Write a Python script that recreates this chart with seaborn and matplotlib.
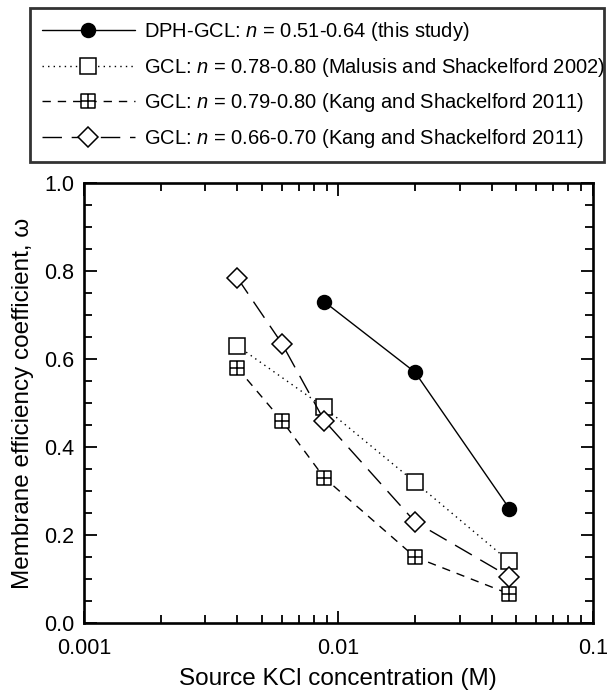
"""Membrane efficiency vs source KCl concentration."""
import numpy as np
import pandas as pd
import seaborn as sns
import matplotlib.pyplot as plt
from matplotlib.path import Path
from matplotlib.ticker import FixedLocator, LogLocator, NullFormatter, MultipleLocator

# Data.
dph_conc = [0.0088, 0.020, 0.047]
dph_omega = [0.73, 0.57, 0.26]
malusis_conc = [0.0040, 0.0088, 0.020, 0.047]
malusis_omega = [0.63, 0.49, 0.32, 0.14]
kang1_conc = [0.0040, 0.0060, 0.0088, 0.020, 0.047]
kang1_omega = [0.58, 0.46, 0.33, 0.15, 0.066]
kang2_conc = [0.0040, 0.0060, 0.0088, 0.020, 0.047]
kang2_omega = [0.785, 0.635, 0.46, 0.23, 0.105]

labels = ['DPH-GCL: $n$ = 0.51-0.64 (this study)',
          'GCL: $n$ = 0.78-0.80 (Malusis and Shackelford 2002)',
          'GCL: $n$ = 0.79-0.80 (Kang and Shackelford 2011)',
          'GCL: $n$ = 0.66-0.70 (Kang and Shackelford 2011)']
xticks = [0.001, 0.01, 0.1]
xticklabels = ['0.001', '0.01', '0.1']

sns.set_style('ticks')
plt.rcParams['font.family'] = ['Liberation Sans', 'DejaVu Sans']
plt.rcParams['mathtext.fontset'] = 'custom'
plt.rcParams['mathtext.rm'] = 'Liberation Sans'
plt.rcParams['mathtext.it'] = 'Liberation Sans:italic'
plt.rcParams['text.color'] = 'black'
plt.rcParams['axes.labelcolor'] = 'black'
plt.rcParams['xtick.color'] = 'black'
plt.rcParams['ytick.color'] = 'black'

# Square with a cross inside.
boxplus = Path([(-1, -1), (1, -1), (1, 1), (-1, 1), (-1, -1),
                (-1, 0), (1, 0), (0, -1), (0, 1)],
               [Path.MOVETO, Path.LINETO, Path.LINETO, Path.LINETO,
                Path.CLOSEPOLY, Path.MOVETO, Path.LINETO, Path.MOVETO,
                Path.LINETO])

fig = plt.figure(figsize=(6.08, 6.92), dpi=100)
ax = fig.add_axes([0.138, 0.0997, 0.837, 0.636])

series = [
    (dph_conc, dph_omega, dict(marker='o', ls='-', mfc='black', ms=10)),
    (malusis_conc, malusis_omega, dict(marker='s', ls=(0, (1, 3)),
                                       mfc='white', ms=11)),
    (kang1_conc, kang1_omega, dict(marker=boxplus, ls=(0, (6, 5)),
                                   mfc='white', ms=10)),
    (kang2_conc, kang2_omega, dict(marker='D', ls=(0, (14, 7)),
                                   mfc='white', ms=10)),
]
for (x, y, kw), lab in zip(series, labels):
    df = pd.DataFrame({'conc': x, 'omega': y})
    sns.lineplot(data=df, x='conc', y='omega', ax=ax, color='black', lw=1,
                 mec='black', mew=1.1, label=lab, **kw)

ax.set_xscale('log')
ax.set_xlim(0.001, 0.1)
ax.set_ylim(0, 1.0)
ax.xaxis.set_major_locator(FixedLocator(xticks))
ax.set_xticklabels(xticklabels)
ax.xaxis.set_minor_locator(LogLocator(base=10, subs=np.arange(2, 10)))
ax.xaxis.set_minor_formatter(NullFormatter())
ax.yaxis.set_major_locator(MultipleLocator(0.2))
ax.yaxis.set_minor_locator(MultipleLocator(0.05))
ax.set_yticks([0, 0.2, 0.4, 0.6, 0.8, 1.0])
ax.set_yticklabels(['0.0', '0.2', '0.4', '0.6', '0.8', '1.0'])

ax.tick_params(which='both', direction='in', top=True, right=True,
               labelsize=15.5, width=1.3, color='black')
ax.tick_params(which='major', length=9)
ax.tick_params(which='minor', length=5.5)
ax.tick_params(axis='x', which='major', pad=11)
ax.tick_params(axis='y', which='major', pad=7)
for sp in ax.spines.values():
    sp.set_linewidth(1.9)
    sp.set_color('black')

ax.set_xlabel('Source KCl concentration (M)', fontsize=17.5, labelpad=6)
ax.set_ylabel('Membrane efficiency coefficient, ω', fontsize=17.5,
              labelpad=7)

handles, labs = ax.get_legend_handles_labels()
ax.get_legend().remove()
leg = fig.legend(handles, labs, loc='upper left',
                 bbox_to_anchor=(0.049, 0.988, 0.944, 0.0), mode='expand',
                 borderaxespad=0, fontsize=14.5, handlelength=4.6,
                 handletextpad=0.45, labelspacing=0.62, borderpad=0.6,
                 fancybox=False, frameon=True)
leg.get_frame().set_edgecolor('black')
leg.get_frame().set_linewidth(2)

fig.savefig('out.png', dpi=100)
